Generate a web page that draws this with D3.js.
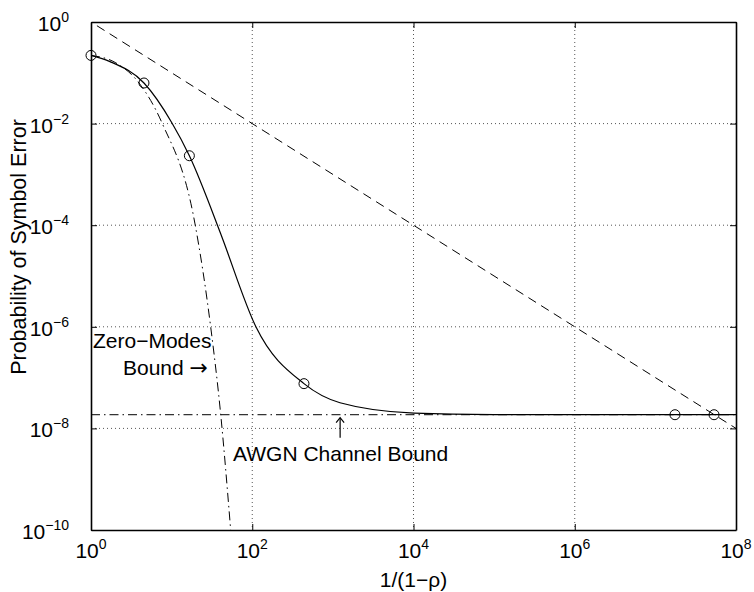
<!DOCTYPE html>
<html><head><meta charset="utf-8">
<script src="https://cdn.jsdelivr.net/npm/d3@7/dist/d3.min.js"></script>
<style>
body{margin:0;background:#fff;}
text{font-family:"Liberation Sans",Arial,Helvetica,sans-serif;fill:#000;}
</style></head>
<body>
<svg id="chart" width="754" height="592"></svg>
<script>
// ---- data ----
const xTickValues = [1e0, 1e2, 1e4, 1e6, 1e8];
const xTickExponents = ["0", "2", "4", "6", "8"];
const yTickValues = [1e0, 1e-2, 1e-4, 1e-6, 1e-8, 1e-10];
const yTickExponents = ["0", "\u22122", "\u22124", "\u22126", "\u22128", "\u221210"];

// solid curve (exact symbol error)
const exactX = [1, 1.72, 4.54, 10.1, 16.6, 36.5, 43.4, 111, 438, 1225, 10140, 1e5, 1e6, 1e8];
const exactP = [0.22, 0.166, 0.063, 0.0103, 2.33e-3, 1.06e-4, 5.1e-5, 1.0e-6, 7.6e-8, 3.2e-8, 2.0e-8, 1.87e-8, 1.86e-8, 1.86e-8];
// circle markers
const markerX = [1, 4.54, 16.6, 438, 1.75e7, 5.34e7];
const markerP = [0.22, 0.063, 2.33e-3, 7.6e-8, 1.86e-8, 1.86e-8];
// zero-modes bound (dash-dot)
const zeroX = [1, 1.99, 3.94, 7.6, 19.5, 30.5, 40.6, 54];
const zeroP = [0.22, 0.16, 0.063, 0.0103, 1.06e-4, 1.0e-6, 1.9e-8, 1.0e-10];
// AWGN channel bound (horizontal dash-dot)
const awgnX = [1, 1e8];
const awgnP = [1.86e-8, 1.86e-8];
// upper bound (dashed)
const upperX = [1, 1e8];
const upperP = [1, 1e-8];

// ---- layout ----
const L = 91, R = 736, T = 22, B = 530;
const svg = d3.select("#chart");
const x = d3.scaleLog().domain([1, 1e8]).range([L, R]);
const y = d3.scaleLog().domain([1e-10, 1]).range([B, T]);

// grid
const grid = svg.append("g").attr("stroke", "#555").attr("stroke-width", 1).attr("stroke-dasharray", "1,3");
xTickValues.slice(1, -1).forEach(v => {
  grid.append("line").attr("x1", x(v)).attr("x2", x(v)).attr("y1", T).attr("y2", B);
});
yTickValues.slice(1, -1).forEach(v => {
  grid.append("line").attr("x1", L).attr("x2", R).attr("y1", y(v)).attr("y2", y(v));
});

// axes (ticks inward)
const tickLen = 6;
const axB = svg.append("g").attr("transform", `translate(0,${B})`)
  .call(d3.axisBottom(x).tickValues(xTickValues).tickSizeInner(-tickLen).tickSizeOuter(0).tickFormat(""));
const axT = svg.append("g").attr("transform", `translate(0,${T})`)
  .call(d3.axisTop(x).tickValues(xTickValues).tickSizeInner(-tickLen).tickSizeOuter(0).tickFormat(""));
const axL = svg.append("g").attr("transform", `translate(${L},0)`)
  .call(d3.axisLeft(y).tickValues(yTickValues).tickSizeInner(-tickLen).tickSizeOuter(0).tickFormat(""));
const axR = svg.append("g").attr("transform", `translate(${R},0)`)
  .call(d3.axisRight(y).tickValues(yTickValues).tickSizeInner(-tickLen).tickSizeOuter(0).tickFormat(""));
[axB, axT, axL, axR].forEach(a => {
  a.select(".domain").attr("stroke", "#000").attr("stroke-width", 1.6);
  a.selectAll(".tick line").attr("stroke", "#000").attr("stroke-width", 1);
});

// tick labels
xTickValues.forEach((v, i) => {
  const t = svg.append("text").attr("x", x(v)).attr("y", 558).attr("text-anchor", "middle").attr("font-size", 21);
  t.append("tspan").text("10");
  t.append("tspan").attr("font-size", 14).attr("dy", -9).text(xTickExponents[i]);
});
yTickValues.forEach((v, i) => {
  const t = svg.append("text").attr("x", 69).attr("y", y(v) + 9).attr("text-anchor", "end").attr("font-size", 21);
  t.append("tspan").text("10");
  t.append("tspan").attr("font-size", 14).attr("dy", -9).text(yTickExponents[i]);
});

// axis titles
svg.append("text").attr("x", x(1e4)).attr("y", 587).attr("text-anchor", "middle").attr("font-size", 21).text("1/(1\u2212\u03c1)");
svg.append("text").attr("transform", `translate(26,247) rotate(-90)`).attr("text-anchor", "middle")
  .attr("font-size", 21.5).text("Probability of Symbol Error");

// lines
svg.append("clipPath").attr("id", "plotclip").append("rect")
  .attr("x", L).attr("y", T).attr("width", R - L).attr("height", B - T);
const plot = svg.append("g").attr("clip-path", "url(#plotclip)");
const line = d3.line().x(d => x(d[0])).y(d => y(d[1])).curve(d3.curveMonotoneX);
const zip = (a, b) => a.map((v, i) => [v, b[i]]);

plot.append("path").attr("d", line(zip(upperX, upperP))).attr("fill", "none")
  .attr("stroke", "#000").attr("stroke-width", 1).attr("stroke-dasharray", "9,6").attr("stroke-dashoffset", -7);
plot.append("path").attr("d", line(zip(awgnX, awgnP))).attr("fill", "none")
  .attr("stroke", "#000").attr("stroke-width", 1).attr("stroke-dasharray", "9,4,1.5,4");
plot.append("path").attr("d", line(zip(zeroX, zeroP))).attr("fill", "none")
  .attr("stroke", "#000").attr("stroke-width", 1).attr("stroke-dasharray", "9,4,1.5,4");
plot.append("path").attr("d", line(zip(exactX, exactP))).attr("fill", "none")
  .attr("stroke", "#000").attr("stroke-width", 1.2);

// markers
svg.append("g").selectAll("circle").data(zip(markerX, markerP)).join("circle")
  .attr("cx", d => x(d[0])).attr("cy", d => y(d[1])).attr("r", 5)
  .attr("fill", "none").attr("stroke", "#000").attr("stroke-width", 1);

// annotations
svg.append("text").attr("x", 93).attr("y", 348).attr("font-size", 21).text("Zero\u2212Modes");
const b = svg.append("text").attr("x", 123).attr("y", 375).attr("font-size", 21);
b.append("tspan").text("Bound ");
b.append("tspan").attr("font-family", "DejaVu Sans").attr("font-size", 22).text("\u2192");
svg.append("text").attr("x", 233).attr("y", 461).attr("font-size", 21).text("AWGN Channel Bound");
// up arrow pointing at the AWGN bound
const ax = x(1230), ay = y(awgnP[0]) + 3;
const arrow = svg.append("g").attr("stroke", "#000").attr("stroke-width", 1.2).attr("fill", "none");
arrow.append("line").attr("x1", ax).attr("x2", ax).attr("y1", ay).attr("y2", ay + 20);
arrow.append("path").attr("d", `M${ax - 4},${ay + 5} L${ax},${ay} L${ax + 4},${ay + 5}`);
</script>
</body></html>
